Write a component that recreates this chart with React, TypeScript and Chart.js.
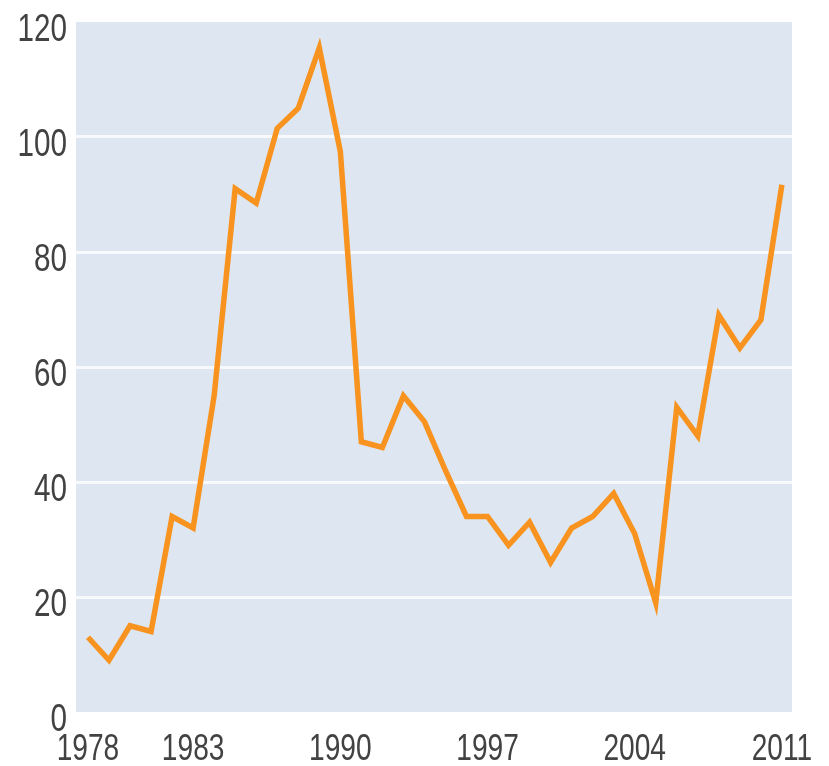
import React, { useEffect, useRef } from "react";
import { Chart, registerables } from "chart.js";

Chart.register(...registerables);

const years: number[] = [
  1978, 1979, 1980, 1981, 1982, 1983, 1984, 1985, 1986, 1987, 1988, 1989,
  1990, 1991, 1992, 1993, 1994, 1995, 1996, 1997, 1998, 1999, 2000, 2001,
  2002, 2003, 2004, 2005, 2006, 2007, 2008, 2009, 2010, 2011,
];
const values: number[] = [
  13, 9, 15, 14, 34, 32, 55, 91, 88.5, 101.5, 105, 115.5,
  97.5, 47, 46, 55, 50.5, 42, 34, 34, 29, 33, 26, 32,
  34, 38, 31, 19, 53, 48, 69, 63.3, 68.2, 91.7,
];
const xTickYears: number[] = [1978, 1983, 1990, 1997, 2004, 2011];
const yTicks: number[] = [0, 20, 40, 60, 80, 100, 120];

const FONT_FAMILY = '"Liberation Sans", Arial, sans-serif';
const TEXT_COLOR = "#424242";
const SQUEEZE = 0.76;

const plotBg = {
  id: "plotBg",
  beforeDraw(chart: any) {
    const { ctx, chartArea } = chart;
    ctx.save();
    ctx.fillStyle = "#DDE6F1";
    ctx.fillRect(chartArea.left, chartArea.top, chartArea.right - chartArea.left, chartArea.bottom - chartArea.top);
    ctx.restore();
  },
};

// Draws the axes' tick labels (from the scales' own ticks) in a condensed style
const condensedLabels = {
  id: "condensedLabels",
  afterDraw(chart: any) {
    const { ctx } = chart;
    const xs = chart.scales.x;
    const ys = chart.scales.y;
    ctx.save();
    ctx.fillStyle = TEXT_COLOR;
    ctx.textBaseline = "alphabetic";
    ctx.font = `37px ${FONT_FAMILY}`;
    ctx.textAlign = "center";
    for (const t of xs.ticks) {
      const px = xs.getPixelForValue(t.value);
      ctx.save();
      ctx.translate(px, xs.top + 48);
      ctx.scale(SQUEEZE, 1);
      ctx.fillText(String(t.value), 0, 0);
      ctx.restore();
    }
    ctx.font = `39px ${FONT_FAMILY}`;
    ctx.textAlign = "right";
    for (const t of ys.ticks) {
      const py = ys.getPixelForValue(t.value);
      ctx.save();
      ctx.translate(ys.right - 9, py + 18.5);
      ctx.scale(SQUEEZE, 1);
      ctx.fillText(String(t.value), 0, 0);
      ctx.restore();
    }
    ctx.restore();
  },
};

export default function App() {
  const ref = useRef<HTMLCanvasElement>(null);
  useEffect(() => {
    if (!ref.current) return;
    const chart = new Chart(ref.current, {
      type: "line",
      data: {
        datasets: [
          {
            data: years.map((y, i) => ({ x: y, y: values[i] })),
            borderColor: "#F7931E",
            borderWidth: 5.5,
            borderJoinStyle: "miter",
            borderCapStyle: "butt",
            pointRadius: 0,
            tension: 0,
            fill: false,
          },
        ],
      },
      options: {
        animation: false,
        responsive: false,
        maintainAspectRatio: false,
        layout: { padding: { left: 0, top: 22, right: 37, bottom: 0 } },
        plugins: { legend: { display: false }, tooltip: { enabled: false } },
        scales: {
          x: {
            type: "linear",
            min: 1977.43,
            max: 2011.48,
            grid: { display: false },
            border: { display: false },
            ticks: { display: false },
            afterBuildTicks: (scale: any) => {
              scale.ticks = xTickYears.map((v) => ({ value: v }));
            },
            afterFit: (scale: any) => {
              scale.height = 54;
              scale.paddingLeft = 0;
              scale.paddingRight = 0;
            },
          },
          y: {
            min: 0,
            max: 120,
            grid: {
              drawTicks: false,
              lineWidth: 3,
              color: (c: any) =>
                c.tick && (c.tick.value === 0 || c.tick.value === 120) ? "rgba(0,0,0,0)" : "#F7F9FC",
            },
            border: { display: false },
            ticks: { display: false },
            afterBuildTicks: (scale: any) => {
              scale.ticks = yTicks.map((v) => ({ value: v }));
            },
            afterFit: (scale: any) => {
              scale.width = 76;
              scale.paddingTop = 0;
              scale.paddingBottom = 0;
            },
          },
        },
      },
      plugins: [plotBg, condensedLabels],
    });
    return () => chart.destroy();
  }, []);
  return (
    <div style={{ position: "absolute", left: 0, top: 0, width: 829, height: 766, background: "#fff" }}>
      <canvas ref={ref} width={829} height={766} style={{ width: 829, height: 766, display: "block" }} />
    </div>
  );
}
